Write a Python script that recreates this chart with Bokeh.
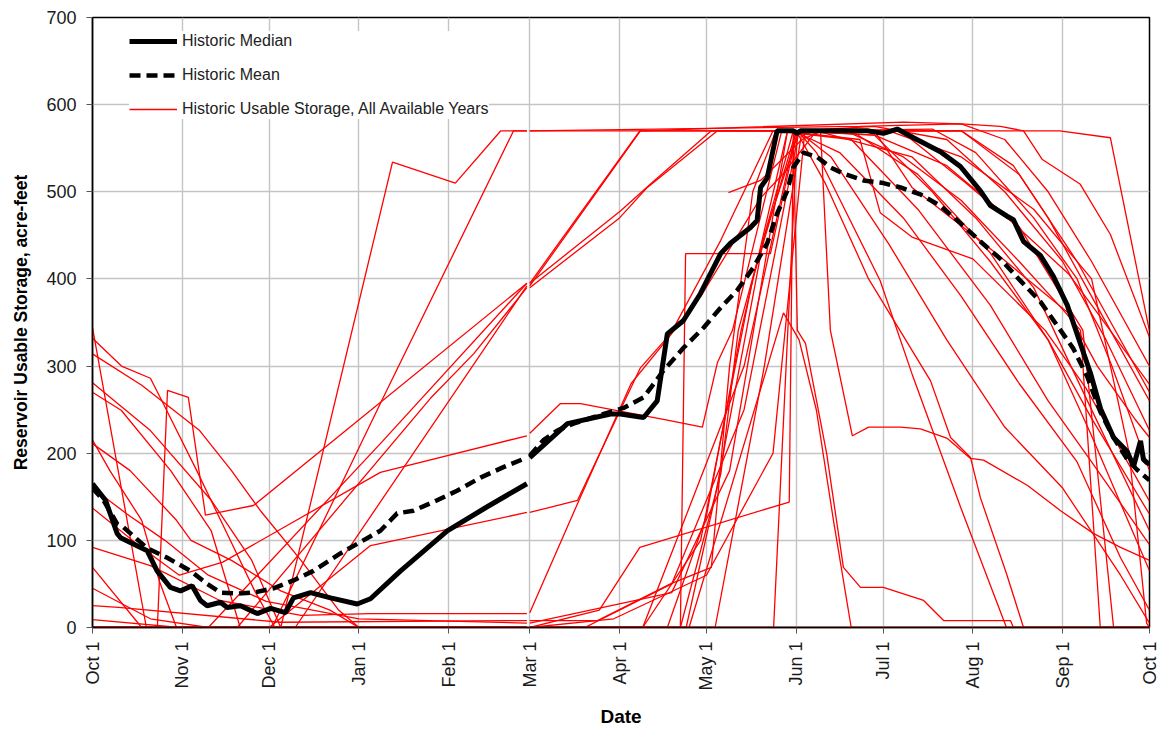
import math

from bokeh.embed import file_html
from bokeh.models import FixedTicker, Legend, LegendItem, Range1d
from bokeh.plotting import figure
from bokeh.resources import INLINE

# Water-year day index (0 = Oct 1, 365 = next Oct 1); Feb 29 slot is left blank
MONTH_STARTS = [0, 31, 61, 92, 123, 151, 182, 212, 243, 273, 304, 335, 365]
MONTH_LABELS = ["Oct 1", "Nov 1", "Dec 1", "Jan 1", "Feb 1", "Mar 1", "Apr 1",
                "May 1", "Jun 1", "Jul 1", "Aug 1", "Sep 1", "Oct 1"]
STORAGE_TICKS = [0, 100, 200, 300, 400, 500, 600, 700]

# Historic median storage (day, acre-feet)
median_storage = [
    (0, 165), (4.5, 146), (8.5, 108), (9.7, 103), (18.9, 88), (22.3, 65), (26.9, 46),
    (30.4, 42), (34.4, 48), (37.3, 31), (39.6, 25), (44.2, 29), (46.5, 23), (51.1, 25),
    (56.9, 16), (61.5, 22), (66.6, 17), (69.4, 34), (75.3, 40), (82.2, 34), (91.4, 27),
    (96, 33), (106.4, 65), (122.5, 111), (136, 138), (150, 165),
    (151, 195), (164, 234), (178.9, 245), (182.3, 245), (190.3, 241), (195, 260),
    (198.5, 337), (204, 352), (209.9, 383), (216.9, 429), (220.3, 441), (227.2, 459),
    (229.5, 467), (230.7, 505), (233, 516), (236.4, 570), (242, 570), (243.3, 567),
    (244.5, 570), (267.5, 570), (273.1, 567), (277.9, 572), (283.5, 562), (292.8, 546),
    (299.7, 529), (306.6, 501), (310.1, 484), (315.8, 472), (318, 468), (321.5, 443),
    (327.3, 427), (331.8, 403), (336.6, 370), (341.2, 325), (344.6, 292), (348.1, 251),
    (352.6, 218), (357.3, 202), (359.5, 185), (361.9, 214), (362.9, 193), (364.2, 189),
    (365, 188),
]

# Historic mean storage (day, acre-feet)
mean_storage = [
    (0, 160), (3.8, 146), (8.5, 119), (10.7, 115), (18.9, 91), (25.8, 80), (33.8, 65),
    (39.6, 50), (44.2, 40), (50, 39), (55.6, 40), (62.5, 45), (69.4, 54), (76.3, 65),
    (85.6, 85), (91.4, 96), (99.4, 111), (102.9, 123), (105.2, 131), (110.8, 134),
    (119, 146), (125.9, 157), (134, 172), (141.9, 184), (150, 195),
    (151, 197), (155.7, 215), (160.5, 226), (166.1, 234), (176.5, 245), (183.4, 252),
    (190.3, 264), (197.2, 295), (204.1, 321), (211, 344), (216.9, 367), (222.6, 387),
    (228.2, 413), (233, 441), (236.4, 475), (239.9, 501), (242, 528), (245.5, 545),
    (250.2, 540), (254.8, 528), (259.3, 521), (266.2, 513), (273.1, 510), (279, 505),
    (285.9, 497), (292.8, 484), (299.7, 464), (306.6, 443), (313.5, 423), (320.4, 398),
    (327.3, 374), (334.3, 341), (338.7, 320), (343.5, 288), (348.1, 247), (352.6, 218),
    (357.3, 193), (360.7, 181), (365, 169),
]

# Individual water years of usable storage (day, acre-feet)
wy_01 = [(0, 0), (65, 0), (103.6, 534), (125.3, 510), (141, 570), (150, 570),
         (151, 570), (334, 570), (351.5, 562), (365, 340)]
wy_02 = [(0, 0), (62, 0), (99.4, 257), (145.4, 570), (150, 570),
         (151, 570), (265, 575), (300, 578), (313.5, 575), (321.5, 570), (328, 537),
         (341, 509), (351.5, 451), (365, 333)]
wy_03 = [(0, 69), (17, 0), (22.4, 0), (25.9, 272), (33.1, 264), (39, 129), (55.6, 140),
         (150, 395), (151, 395), (189, 570), (279, 570), (302, 509), (318, 464),
         (337, 406), (347, 361), (365, 279)]
wy_04 = [(0, 137), (16, 94), (30, 60), (45, 75), (99.4, 178), (150, 220),
         (151, 223), (161.6, 257), (168.5, 257), (198.5, 238), (210.6, 230), (215.8, 304),
         (221, 341), (238, 570), (265, 560), (272, 476), (283, 448), (304, 423), (329, 341),
         (343, 275), (365, 145)]
wy_05 = [(0, 0), (40, 0), (99.4, 211), (150, 395),
         (151, 395), (182.3, 478), (192.7, 509), (213.7, 570), (270, 570), (283, 505),
         (307, 443), (337, 361), (347, 300), (360, 239), (365, 218)]
wy_06 = [(0, 9), (30, 0), (50, 0), (116.7, 263), (131.6, 314), (150, 390),
         (151, 390), (182, 470), (191.6, 505), (215.8, 570), (251.4, 570), (254.8, 341),
         (262.4, 220), (268, 230), (279, 230), (285.9, 228), (295.2, 217), (303.2, 194),
         (307.7, 192), (322.9, 163), (334.3, 134), (345.6, 108), (355, 92), (365, 77)]
wy_07 = [(0, 0), (61, 0), (96, 94), (150, 132),
         (151, 132), (167.5, 146), (189.2, 298), (199.6, 337), (216.9, 444), (235, 570),
         (260, 570), (280, 540), (300, 490), (320, 420), (335, 365), (341.2, 341),
         (348, 0), (365, 0)]
wy_08 = [(0, 92), (20, 71), (44, 31), (72, 14), (96, 16), (150, 16),
         (151, 17), (168, 146), (186, 280), (199, 333), (210.6, 383), (230.7, 493),
         (238.6, 521), (250, 570), (283, 540), (305, 470), (325, 390), (345, 250),
         (365, 111)]
wy_09 = [(0, 25), (9, 23), (65, 6), (150, 8),
         (151, 8), (174.4, 8), (199.6, 50), (213.7, 69), (220, 300), (228, 500), (236, 570),
         (262, 560), (285, 480), (310, 370), (330, 260), (345, 190), (365, 95)]
wy_10 = [(0, 344), (18.6, 0), (150, 0),
         (151, 0), (235.2, 0), (243.4, 570), (250, 545), (272, 398), (283, 291),
         (300, 136), (315.6, 0), (365, 0)]
wy_11 = [(0, 332), (10, 300), (20, 286), (24, 260), (36, 180), (46, 111), (56, 42),
         (63, 0), (150, 0),
         (151, 0), (206, 0), (238.6, 361), (244, 330), (250, 249), (256, 120), (262, 0),
         (365, 0)]
wy_12 = [(0, 314), (17, 278), (37, 226), (48, 180), (58, 134), (72, 77), (85, 20),
         (92, 0), (150, 0),
         (151, 0), (198.5, 0), (212, 128), (224, 341), (240, 570), (270, 565), (290, 500),
         (310, 420), (330, 330), (345, 220), (365, 65)]
wy_13 = [(0, 281), (20, 226), (41, 146), (55, 77), (65, 0), (150, 0),
         (151, 0), (203, 0), (217, 177), (223, 341), (242, 570), (258, 545), (280, 470),
         (300, 380), (320, 280), (340, 190), (355, 80), (365, 20)]
wy_14 = [(0, 270), (10, 249), (27, 180), (41, 111), (51, 0), (150, 0),
         (151, 0), (203, 0), (204.8, 429), (234.1, 429), (243.4, 570), (255, 540),
         (275, 440), (295, 330), (315, 230), (335, 160), (355, 60), (365, 5)]
wy_15 = [(0, 215), (6, 180), (17, 123), (23, 54), (29, 0), (150, 0),
         (151, 0), (175, 20), (189, 92), (240.6, 144), (242, 570), (243.4, 341),
         (246.2, 326), (253.5, 200), (259.3, 69), (265.2, 46), (273.1, 46), (287, 31),
         (293.9, 8), (317, 8), (318, 0), (365, 0)]
wy_16 = [(0, 211), (13, 180), (29, 123), (34, 100), (48, 77), (65, 42), (82, 20),
         (92, 0), (150, 0),
         (151, 0), (190, 0), (210, 100), (228, 400), (243, 570), (253, 510), (268, 400),
         (289.4, 283), (296.3, 218), (303.2, 195), (306.6, 149), (315.6, 62), (321.5, 0),
         (365, 0)]
wy_17 = [(0, 0), (150, 0),
         (151, 0), (170, 0), (200, 50), (225, 250), (244, 570), (270, 575), (295, 560),
         (315, 500), (335, 420), (350, 330), (365, 226)]
wy_18 = [(0, 0), (150, 0),
         (151, 0), (215, 0), (232, 300), (245, 570), (270, 565), (295, 530), (320, 460),
         (342, 341), (352.6, 0), (365, 0)]
wy_19 = [(0, 0), (150, 0),
         (151, 0), (180, 10), (212, 60), (235, 200), (246, 570), (275, 570), (300, 540),
         (325, 480), (345, 400), (358, 200), (364, 5), (365, 0)]
wy_20 = [(0, 0), (150, 0), (151, 0), (365, 0)]
wy_21 = [(0, 160), (12, 130), (25, 100), (40, 60), (60, 30), (92, 10), (150, 5),
         (151, 5), (200, 40), (220, 180), (240, 570), (300, 570), (318, 530), (330, 470),
         (345, 380), (365, 260)]
wy_22 = [(0, 0), (150, 0),
         (151, 0), (205, 0), (215, 150), (232, 450), (244, 570), (290, 572), (305, 545),
         (325, 470), (340, 400), (352, 300), (365, 180)]
wy_23 = [(0, 45), (20, 10), (40, 0), (150, 0),
         (151, 0), (190, 0), (225, 300), (243, 570), (262, 570), (285, 520), (310, 430),
         (330, 330), (345, 240), (365, 130)]
wy_24 = [(0, 0), (70, 0), (150, 392),
         (151, 392), (189.2, 570), (280, 580), (300, 578), (315, 560), (330, 500),
         (345, 420), (365, 300)]
wy_25 = [(219.6, 499), (230.7, 513), (245, 560), (252, 570), (300, 570), (320, 520),
         (340, 420), (365, 270)]

water_years = [wy_01, wy_02, wy_03, wy_04, wy_05, wy_06, wy_07, wy_08, wy_09, wy_10,
               wy_11, wy_12, wy_13, wy_14, wy_15, wy_16, wy_17, wy_18, wy_19, wy_20,
               wy_21, wy_22, wy_23, wy_24, wy_25]

LEAP_GAP = 150.5  # series are broken at the Feb 29 slot


def split_at_gap(points):
    """Return the Oct-Feb and Mar-Sep pieces of one series."""
    pieces = [[p for p in points if p[0] < LEAP_GAP], [p for p in points if p[0] >= LEAP_GAP]]
    return [piece for piece in pieces if len(piece) > 1]


def with_gap(points):
    xs, ys = [], []
    for i, piece in enumerate(split_at_gap(points)):
        if i:
            xs.append(math.nan)
            ys.append(math.nan)
        xs.extend(d for d, _ in piece)
        ys.extend(v for _, v in piece)
    return xs, ys


FONT = "Liberation Sans"

p = figure(
    width=1159, height=730,
    x_range=Range1d(0, 365), y_range=Range1d(0, 700),
    output_backend="svg", toolbar_location=None,
    min_border_left=92, min_border_right=10, min_border_top=17, min_border_bottom=103,
    background_fill_color="white", border_fill_color="white",
)
p.outline_line_color = "black"
p.outline_line_width = 1.5

# grid
p.xgrid.ticker = FixedTicker(ticks=MONTH_STARTS)
p.ygrid.ticker = FixedTicker(ticks=STORAGE_TICKS)
for g in (p.xgrid, p.ygrid):
    g.grid_line_color = "#c4c4c4"
    g.grid_line_width = 1.4

# axes
p.xaxis.ticker = FixedTicker(ticks=MONTH_STARTS)
p.xaxis.major_label_overrides = {d: lab for d, lab in zip(MONTH_STARTS, MONTH_LABELS)}
p.xaxis.major_label_orientation = math.pi / 2
p.yaxis.ticker = FixedTicker(ticks=STORAGE_TICKS)
for ax in (p.xaxis, p.yaxis):
    ax.axis_line_color = "black"
    ax.axis_line_width = 1.5
    ax.major_tick_line_color = "#555555"
    ax.major_tick_in = 0
    ax.major_tick_out = 6
    ax.minor_tick_line_color = None
    ax.major_label_text_font = FONT
    ax.major_label_text_font_size = "18px"
    ax.major_label_text_color = "#1a1a1a"
    ax.axis_label_text_font = FONT
    ax.axis_label_text_font_style = "bold"
    ax.axis_label_text_color = "black"
p.xaxis.axis_label = "Date"
p.xaxis.axis_label_text_font_size = "19px"
p.xaxis.major_label_standoff = 8
p.xaxis.axis_label_standoff = 12
p.yaxis.axis_label = "Reservoir Usable Storage, acre-feet"
p.yaxis.axis_label_text_font_size = "17.5px"
p.yaxis.major_label_standoff = 10
p.yaxis.axis_label_standoff = 12

# individual years
year_xs, year_ys = [], []
for wy in water_years:
    for piece in split_at_gap(wy):
        year_xs.append([d for d, _ in piece])
        year_ys.append([v for _, v in piece])
years_r = p.multi_line(year_xs, year_ys, line_color="#ff0000", line_width=1.3)

mx, my = with_gap(mean_storage)
mean_r = p.line(mx, my, line_color="black", line_width=4.5, line_dash="11 6")
dx, dy = with_gap(median_storage)
median_r = p.line(dx, dy, line_color="black", line_width=5)

legend = Legend(
    items=[
        LegendItem(label="Historic Median", renderers=[median_r]),
        LegendItem(label="Historic Mean", renderers=[mean_r]),
        LegendItem(label="Historic Usable Storage, All Available Years", renderers=[years_r]),
    ],
    location=(37, 508),
    orientation="vertical",
    glyph_width=48, glyph_height=20, label_height=20, spacing=14,
    label_standoff=5, padding=8, margin=0,
    label_text_font=FONT, label_text_font_size="16px", label_text_color="#222222",
    background_fill_color="white", background_fill_alpha=1.0,
    border_line_color=None,
)
p.add_layout(legend)

open("out.html", "w").write(file_html(p, INLINE))
